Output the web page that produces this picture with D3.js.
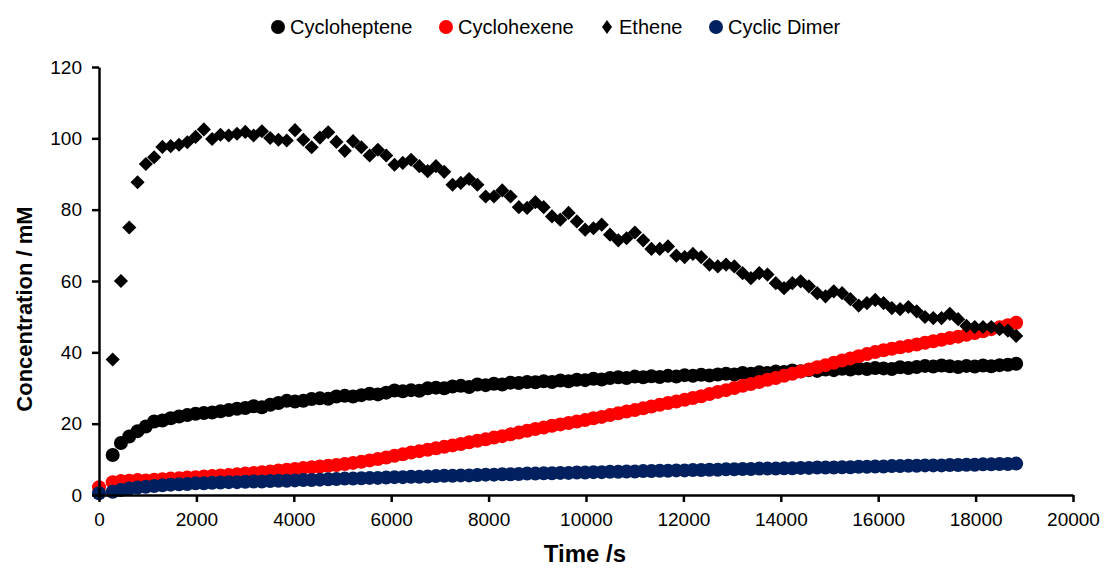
<!DOCTYPE html>
<html>
<head>
    <meta charset="utf-8">
    <title>Concentration vs time</title>
    <style>
        body { margin: 0; background: #fff; }
        svg { display: block; }
        .axis text { font-family: "Liberation Sans", Arial, sans-serif; font-size: 19px; fill: #000; }
        .axis path, .axis line { stroke: #000; stroke-width: 2.5px; }
        .legend text { font-family: "Liberation Sans", Arial, sans-serif; font-size: 20px; }
        .title { font-family: "Liberation Sans", Arial, sans-serif; font-weight: bold; font-size: 22px; }
    </style>
    <script src="https://d3js.org/d3.v7.min.js"></script>
</head>
<body>
<div id="chart"></div>
<script>
    // sample times (s); first entry is t = 0
    const time = [0, 281, 451, 621, 792, 962, 1132, 1302, 1472, 1643, 1813, 1983, 2153, 2323, 2494, 2664, 2834,
        3004, 3174, 3345, 3515, 3685, 3855, 4025, 4196, 4366, 4536, 4706, 4876, 5047, 5217, 5387, 5557, 5727,
        5898, 6068, 6238, 6408, 6578, 6749, 6919, 7089, 7259, 7429, 7600, 7770, 7940, 8110, 8280, 8451, 8621,
        8791, 8961, 9131, 9302, 9472, 9642, 9812, 9982, 10153, 10323, 10493, 10663, 10833, 11004, 11174, 11344,
        11514, 11684, 11855, 12025, 12195, 12365, 12535, 12706, 12876, 13046, 13216, 13386, 13557, 13727, 13897,
        14067, 14237, 14408, 14578, 14748, 14918, 15088, 15259, 15429, 15599, 15769, 15939, 16110, 16280, 16450,
        16620, 16790, 16961, 17131, 17301, 17471, 17641, 17812, 17982, 18152, 18322, 18492, 18663, 18833];

    const cycloheptene = [null, 11.2, 14.6, 16.4, 17.9, 19.2, 20.6, 20.9, 21.5, 22.0, 22.4, 22.8, 23.0, 23.1,
        23.5, 23.8, 24.2, 24.4, 24.9, 24.6, 25.3, 25.8, 26.4, 26.2, 26.4, 26.9, 27.1, 27.0, 27.6, 27.8, 27.6,
        28.0, 28.4, 28.2, 28.7, 29.3, 29.1, 29.4, 29.2, 29.9, 30.1, 29.9, 30.4, 30.6, 30.3, 31.0, 30.8, 31.2,
        31.0, 31.5, 31.4, 31.7, 31.6, 31.9, 31.7, 32.1, 31.9, 32.3, 32.2, 32.6, 32.4, 32.8, 33.0, 32.8, 33.2,
        33.0, 33.3, 33.1, 33.4, 33.2, 33.6, 33.4, 33.7, 33.5, 33.8, 34.0, 33.8, 34.2, 34.0, 34.4, 34.2, 34.6,
        34.5, 34.9, 34.7, 35.0, 34.8, 35.2, 35.0, 35.4, 35.2, 35.5, 35.3, 35.6, 35.5, 35.3, 35.8, 35.6, 35.9,
        36.2, 36.0, 36.3, 36.1, 35.9, 36.2, 36.0, 36.3, 36.1, 36.4, 36.5, 36.8];

    const cyclohexene = [2.2, 3.6, 3.9, 4.0, 4.2, 4.1, 4.3, 4.4, 4.6, 4.7, 4.9, 5.0, 5.2, 5.3, 5.5, 5.6, 5.8,
        6.0, 6.2, 6.4, 6.6, 6.9, 7.1, 7.3, 7.6, 7.8, 8.0, 8.2, 8.4, 8.7, 9.0, 9.3, 9.7, 10.1, 10.5, 11.0, 11.4,
        11.9, 12.3, 12.7, 13.1, 13.5, 13.9, 14.3, 14.8, 15.2, 15.6, 16.1, 16.5, 17.0, 17.5, 18.0, 18.5, 18.9,
        19.4, 19.8, 20.2, 20.6, 21.0, 21.5, 21.9, 22.4, 22.9, 23.4, 23.8, 24.3, 24.8, 25.3, 25.8, 26.2, 26.7,
        27.2, 27.7, 28.3, 28.9, 29.4, 30.0, 30.6, 31.1, 31.7, 32.3, 32.8, 33.4, 34.0, 34.6, 35.2, 35.8, 36.4,
        37.1, 37.7, 38.3, 38.9, 39.5, 40.1, 40.6, 41.0, 41.4, 41.8, 42.2, 42.7, 43.1, 43.5, 44.0, 44.4, 44.9,
        45.4, 45.9, 46.5, 47.0, 47.6, 48.3];

    const ethene = [null, 38, 60, 75, 87.7, 92.8, 94.7, 97.6, 97.8, 98.2, 98.9, 100.4, 102.5, 99.8, 101, 100.8,
        101.3, 101.8, 100.8, 102, 100.1, 99.6, 99.4, 102.3, 99.6, 97.5, 100.2, 101.7, 99, 96.5, 99.2, 97.5,
        95.2, 96.8, 95.2, 92.6, 93.1, 94, 92.2, 90.8, 92.2, 90.6, 87, 87.5, 88.6, 87, 83.7, 83.7, 85.4, 83.7,
        80.7, 80.5, 82.1, 80.7, 78.1, 77.2, 79.1, 76.7, 74.4, 74.8, 75.8, 73, 71.4, 72, 73.6, 71.4, 69, 69,
        69.7, 67.1, 66.7, 67.6, 66.7, 64.6, 64.1, 64.6, 64.1, 62.2, 60.8, 62.2, 61.8, 59.4, 58, 59.4, 59.9,
        58.5, 56.6, 55.7, 57.1, 56.6, 54.9, 53.1, 53.8, 54.7, 53.8, 52.4, 52.1, 52.7, 51.5, 49.9, 49.6, 49.6,
        50.8, 49.3, 47.4, 47.1, 47.1, 47.1, 46.5, 46.1, 44.6];

    const cyclicDimer = [0.5, 0.9, 1.4, 1.8, 2.1, 2.3, 2.5, 2.7, 2.9, 3.0, 3.1, 3.3, 3.3, 3.4, 3.5, 3.6, 3.6,
        3.7, 3.8, 3.8, 3.9, 4.0, 4.0, 4.1, 4.2, 4.2, 4.3, 4.4, 4.5, 4.6, 4.6, 4.7, 4.8, 4.8, 4.9, 5.0, 5.0,
        5.1, 5.1, 5.2, 5.3, 5.4, 5.4, 5.5, 5.5, 5.6, 5.7, 5.7, 5.8, 5.8, 5.9, 6.0, 6.0, 6.1, 6.1, 6.2, 6.2,
        6.3, 6.3, 6.4, 6.4, 6.5, 6.5, 6.6, 6.6, 6.7, 6.7, 6.8, 6.8, 6.9, 6.9, 7.0, 7.0, 7.1, 7.1, 7.2, 7.2,
        7.3, 7.3, 7.4, 7.4, 7.4, 7.5, 7.5, 7.6, 7.6, 7.7, 7.7, 7.7, 7.8, 7.8, 7.9, 7.9, 8.0, 8.0, 8.1, 8.1,
        8.2, 8.2, 8.3, 8.3, 8.3, 8.4, 8.4, 8.5, 8.5, 8.6, 8.6, 8.7, 8.7, 8.8];

    const seriesNames = ["Cycloheptene", "Cyclohexene", "Ethene", "Cyclic Dimer"];
    const seriesColors = ["#000000", "#ff0000", "#000000", "#002060"];
    const seriesShapes = ["circle", "circle", "diamond", "circle"];
    const seriesValues = [cycloheptene, cyclohexene, ethene, cyclicDimer];

    const xTicks = [0, 2000, 4000, 6000, 8000, 10000, 12000, 14000, 16000, 18000, 20000];
    const yTicks = [0, 20, 40, 60, 80, 100, 120];

    const width = 1104, height = 574;
    const margin = {left: 99, right: 31, top: 67, bottom: 79};

    const svg = d3.select("#chart").append("svg")
        .attr("width", width)
        .attr("height", height);

    const x = d3.scaleLinear().domain([0, 20000]).range([margin.left, width - margin.right]);
    const y = d3.scaleLinear().domain([0, 120]).range([height - margin.bottom, margin.top]);

    const diamond = d3.symbol().type(d3.symbolSquare).size(100);

    function drawMark(sel, shape, color) {
        if (shape === "circle") {
            sel.append("circle").attr("r", 7).attr("fill", color);
        } else {
            sel.append("path").attr("d", diamond()).attr("transform", "rotate(45)").attr("fill", color);
        }
    }

    // points, in legend order so later series sit on top
    seriesValues.forEach((vals, s) => {
        const pts = time.map((t, i) => ({t: t, v: vals[i]})).filter(d => d.v != null);
        const g = svg.append("g").attr("class", "series");
        const marks = g.selectAll("g")
            .data(pts)
            .join("g")
            .attr("transform", d => `translate(${x(d.t)},${y(d.v)})`);
        drawMark(marks, seriesShapes[s], seriesColors[s]);
    });

    // axes
    svg.append("g")
        .attr("class", "axis")
        .attr("transform", `translate(0,${y(0)})`)
        .call(d3.axisBottom(x).tickValues(xTicks).tickSize(7).tickSizeOuter(0).tickPadding(11).tickFormat(d3.format("d")));

    svg.append("g")
        .attr("class", "axis")
        .attr("transform", `translate(${x(0)},0)`)
        .call(d3.axisLeft(y).tickValues(yTicks).tickSize(7).tickSizeOuter(0).tickPadding(10));

    // axis titles
    svg.append("text")
        .attr("class", "title")
        .attr("x", (x(0) + x(20000)) / 2 - 1)
        .attr("y", 562)
        .attr("text-anchor", "middle")
        .style("font-size", "24px")
        .text("Time /s");

    svg.append("text")
        .attr("class", "title")
        .attr("transform", `translate(32,${(y(0) + y(120)) / 2 + 28}) rotate(-90)`)
        .attr("text-anchor", "middle")
        .text("Concentration / mM");

    // legend
    const legendX = [278, 446, 607, 716];
    const legend = svg.append("g").attr("class", "legend");
    seriesNames.forEach((name, i) => {
        const item = legend.append("g").attr("transform", `translate(${legendX[i]},27)`);
        if (seriesShapes[i] === "circle") {
            item.append("circle").attr("r", 7).attr("fill", seriesColors[i]);
        } else {
            item.append("path").attr("d", "M0,-7L5,0L0,7L-5,0Z").attr("fill", seriesColors[i]);
        }
        item.append("text")
            .attr("x", 12)
            .attr("y", 7)
            .text(name);
    });
</script>
</body>
</html>
